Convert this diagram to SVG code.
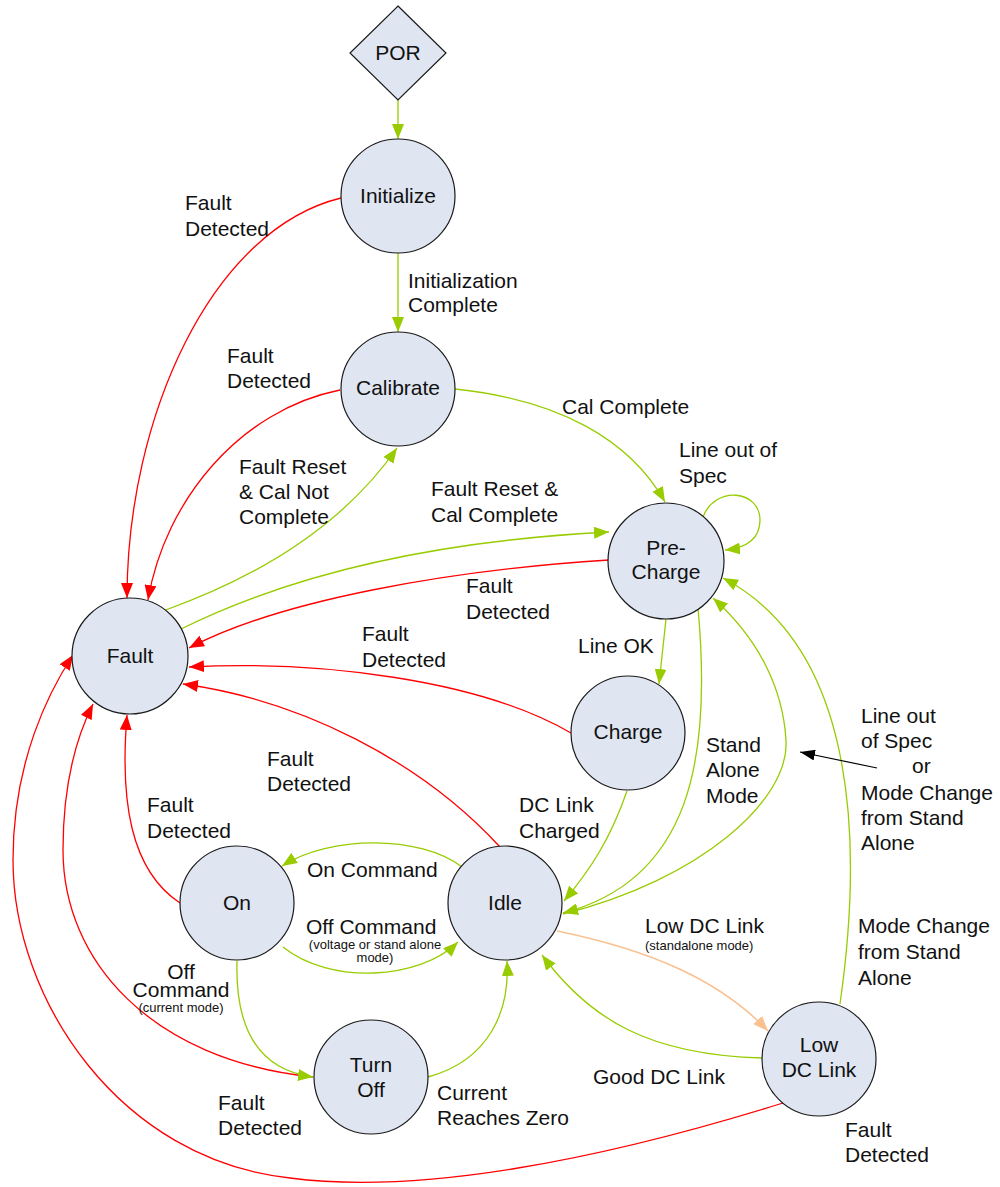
<svg xmlns="http://www.w3.org/2000/svg" width="1000" height="1187" viewBox="0 0 1000 1187">
  <style>
    .node { fill: #dfe6f1; stroke: #1a1a1a; stroke-width: 1.2; }
    .txt { font-family: "Liberation Sans", Arial, sans-serif; font-size: 21px; fill: #111; }
    .sm { font-family: "Liberation Sans", Arial, sans-serif; font-size: 13px; fill: #111; }
    .mid { text-anchor: middle; }
    .g { fill: none; stroke: #99cc00; stroke-width: 1.3; marker-end: url(#ag); }
    .r { fill: none; stroke: #ff0000; stroke-width: 1.3; marker-end: url(#ar); }
    .o { fill: none; stroke: #fac08f; stroke-width: 1.5; marker-end: url(#ao); }
    .k { fill: none; stroke: #000; stroke-width: 1.2; marker-end: url(#ak); }
  </style>
  <defs>
    <marker id="ag" viewBox="0 0 15 12" refX="15" refY="6" markerWidth="15" markerHeight="12" orient="auto" markerUnits="userSpaceOnUse">
      <path d="M0,0 L15,6 L0,12 Z" fill="#99cc00"/>
    </marker>
    <marker id="ar" viewBox="0 0 15 12" refX="15" refY="6" markerWidth="15" markerHeight="12" orient="auto" markerUnits="userSpaceOnUse">
      <path d="M0,0 L15,6 L0,12 Z" fill="#ff0000"/>
    </marker>
    <marker id="ao" viewBox="0 0 15 12" refX="15" refY="6" markerWidth="15" markerHeight="12" orient="auto" markerUnits="userSpaceOnUse">
      <path d="M0,0 L15,6 L0,12 Z" fill="#fac08f"/>
    </marker>
    <marker id="ak" viewBox="0 0 15 11" refX="15" refY="5.5" markerWidth="15" markerHeight="11" orient="auto" markerUnits="userSpaceOnUse">
      <path d="M0,0 L15,5.5 L0,11 Z" fill="#000"/>
    </marker>
  </defs>

  <rect width="1000" height="1187" fill="#ffffff"/>

  <!-- transitions -->
  <g id="connectors">
    <path class="g" d="M398,100 L398,139"/>
    <path class="g" d="M398,253 L398,332"/>
    <path class="r" d="M341,198 C 210,230 127,420 127,598"/>
    <path class="r" d="M340,390 C 240,410 165,500 148,600"/>
    <path class="g" d="M163,611 C 250,580 340,530 397,448"/>
    <path class="g" d="M181,629 C 300,570 450,540 609,532"/>
    <path class="g" d="M455,389 C 560,400 630,440 665,502"/>
    <path class="g" d="M703,517 C 715,485 760,490 760,520 C 760,540 745,548 725,550"/>
    <path class="r" d="M609,560 C 450,570 280,600 189,648"/>
    <path class="g" d="M666,619 L659,684"/>
    <path class="r" d="M571,733 C 480,680 320,660 189,667"/>
    <path class="g" d="M627,791 C 610,840 590,870 564,901"/>
    <path class="g" d="M698,608 C 712,760 690,880 563,913"/>
    <path class="g" d="M563,914 C 700,880 790,800 786,740 C 783,690 760,640 713,598"/>
    <path class="g" d="M840,1004 C 862,850 860,650 723,578"/>
    <path class="o" d="M557,931 C 650,950 720,980 768,1031"/>
    <path class="g" d="M762,1058 C 650,1055 590,1020 542,955"/>
    <path class="r" d="M783,1103 C 600,1160 420,1195 290,1178 C 120,1160 13,1000 13,860 C 13,760 50,690 73,655"/>
    <path class="r" d="M180,903 C 130,870 120,800 127,715"/>
    <path class="r" d="M313,1077 C 150,1060 63,960 63,850 C 63,790 75,740 93,704"/>
    <path class="r" d="M500,847 C 420,760 300,700 183,684"/>
    <path class="g" d="M462,867 C 420,835 330,835 282,866"/>
    <path class="g" d="M283,947 C 330,985 420,980 458,942"/>
    <path class="g" d="M237,961 C 235,1030 260,1070 313,1077"/>
    <path class="g" d="M428,1077 C 490,1060 510,1010 507,961"/>
    <path class="k" d="M877,768 L800,752"/>
  </g>

  <!-- transition labels -->
  <g id="labels" class="txt">
    <text x="185" y="210">Fault</text>
    <text x="185" y="236">Detected</text>
    <text x="408" y="288">Initialization</text>
    <text x="408" y="312">Complete</text>
    <text x="227" y="363">Fault</text>
    <text x="227" y="388">Detected</text>
    <text x="239" y="474">Fault Reset</text>
    <text x="239" y="499">&amp; Cal Not</text>
    <text x="239" y="524">Complete</text>
    <text x="431" y="496">Fault Reset &amp;</text>
    <text x="431" y="522">Cal Complete</text>
    <text x="562" y="414">Cal Complete</text>
    <text x="679" y="457">Line out of</text>
    <text x="679" y="483">Spec</text>
    <text x="466" y="593">Fault</text>
    <text x="466" y="619">Detected</text>
    <text x="578" y="653">Line OK</text>
    <text x="362" y="641">Fault</text>
    <text x="362" y="667">Detected</text>
    <text x="706" y="752">Stand</text>
    <text x="706" y="777">Alone</text>
    <text x="706" y="803">Mode</text>
    <text x="519" y="812">DC Link</text>
    <text x="519" y="838">Charged</text>
    <text x="267" y="766">Fault</text>
    <text x="267" y="791">Detected</text>
    <text x="147" y="812">Fault</text>
    <text x="147" y="838">Detected</text>
    <text x="307" y="877">On Command</text>
    <text x="306" y="934">Off Command</text>
    <text class="sm mid" x="375" y="949">(voltage or stand alone</text>
    <text class="sm mid" x="375" y="962">mode)</text>
    <text x="645" y="933">Low DC Link</text>
    <text class="sm" x="645" y="950">(standalone mode)</text>
    <text class="mid" x="181" y="979">Off</text>
    <text class="mid" x="181" y="997">Command</text>
    <text class="sm mid" x="181" y="1012">(current mode)</text>
    <text x="218" y="1110">Fault</text>
    <text x="218" y="1135">Detected</text>
    <text x="437" y="1100">Current</text>
    <text x="437" y="1125">Reaches Zero</text>
    <text x="593" y="1084">Good DC Link</text>
    <text x="858" y="933">Mode Change</text>
    <text x="858" y="959">from Stand</text>
    <text x="858" y="985">Alone</text>
    <text x="845" y="1137">Fault</text>
    <text x="845" y="1162">Detected</text>
    <text x="861" y="723">Line out</text>
    <text x="861" y="748">of Spec</text>
    <text x="912" y="773">or</text>
    <text x="861" y="800">Mode Change</text>
    <text x="861" y="825">from Stand</text>
    <text x="861" y="850">Alone</text>
  </g>

  <!-- states -->
  <g id="por">
    <polygon class="node" points="398,6 446,53 398,100 350,53"/>
    <text class="txt mid" x="398" y="60">POR</text>
  </g>
  <g id="initialize">
    <circle class="node" cx="398" cy="196" r="57"/>
    <text class="txt mid" x="398" y="203">Initialize</text>
  </g>
  <g id="calibrate">
    <circle class="node" cx="398" cy="389" r="57"/>
    <text class="txt mid" x="398" y="395">Calibrate</text>
  </g>
  <g id="pre-charge">
    <circle class="node" cx="666" cy="561" r="58"/>
    <text class="txt mid" x="666" y="555">Pre-</text>
    <text class="txt mid" x="666" y="579">Charge</text>
  </g>
  <g id="fault">
    <circle class="node" cx="130" cy="656" r="58"/>
    <text class="txt mid" x="130" y="663">Fault</text>
  </g>
  <g id="charge">
    <circle class="node" cx="628" cy="733" r="57"/>
    <text class="txt mid" x="628" y="739">Charge</text>
  </g>
  <g id="on">
    <circle class="node" cx="237" cy="903" r="57"/>
    <text class="txt mid" x="237" y="910">On</text>
  </g>
  <g id="idle">
    <circle class="node" cx="505" cy="903" r="57"/>
    <text class="txt mid" x="505" y="910">Idle</text>
  </g>
  <g id="turn-off">
    <circle class="node" cx="371" cy="1077" r="57"/>
    <text class="txt mid" x="371" y="1072">Turn</text>
    <text class="txt mid" x="371" y="1097">Off</text>
  </g>
  <g id="low-dc-link">
    <circle class="node" cx="819" cy="1059" r="57"/>
    <text class="txt mid" x="819" y="1052">Low</text>
    <text class="txt mid" x="819" y="1077">DC Link</text>
  </g>
</svg>
